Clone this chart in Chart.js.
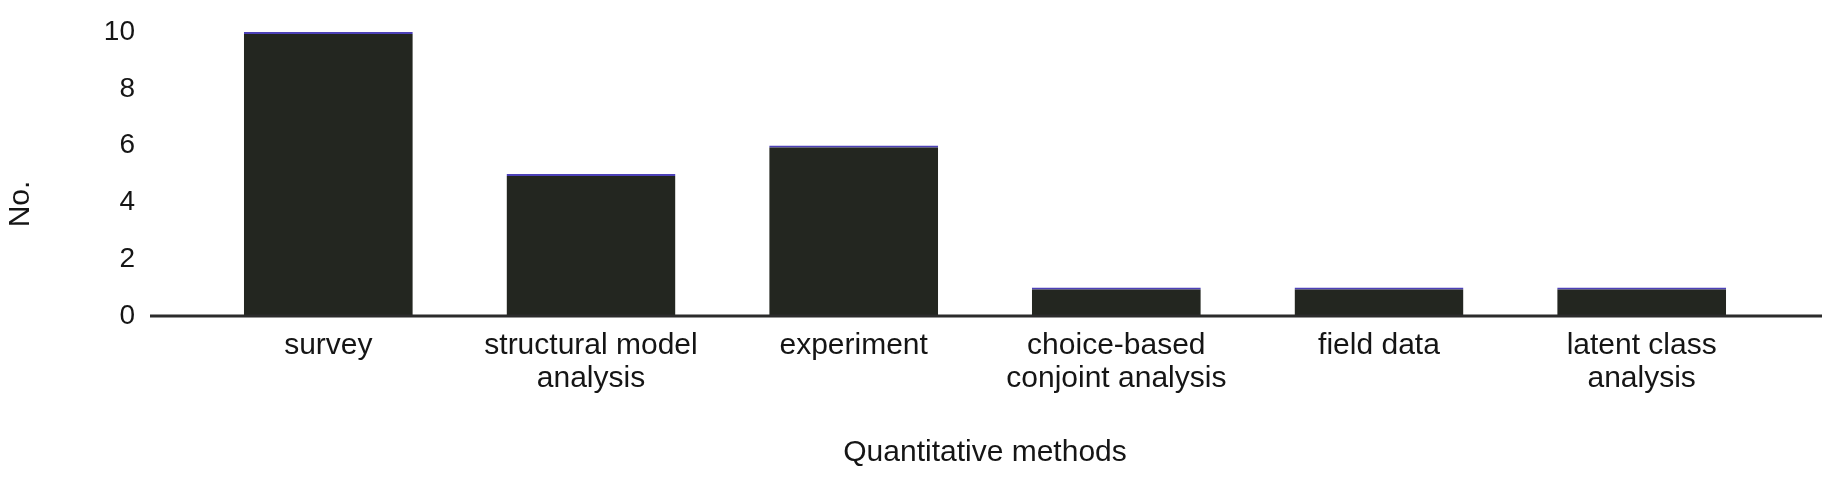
<!DOCTYPE html>
<html>
<head>
<meta charset="utf-8">
<script src="https://cdn.jsdelivr.net/npm/chart.js@4/dist/chart.umd.min.js"></script>
<style>
    html, body { margin: 0; padding: 0; background: #fff; }
    #wrap { width: 1839px; height: 492px; position: relative; }
</style>
</head>
<body>
<div id="wrap"><canvas id="methodsChart"></canvas></div>
<script>
// Chart data
const methodLabels = [
    'survey',
    ['structural model', 'analysis'],
    'experiment',
    ['choice-based', 'conjoint analysis'],
    'field data',
    ['latent class', 'analysis']
];
const methodCounts = [10, 5, 6, 1, 1, 1];
const yTickValues = [0, 2, 4, 6, 8, 10];
const yTitle = 'No.';
const xTitle = 'Quantitative methods';

const textColor = '#151515';
const fontFamily = '"Liberation Sans", Arial, sans-serif';

// Baseline that runs a bit past the bars on both sides
const baselinePlugin = {
    id: 'baseline',
    afterDatasetsDraw(chart) {
        const ctx = chart.ctx;
        const y = chart.scales.y.getPixelForValue(0);
        ctx.save();
        ctx.strokeStyle = '#2b2b2b';
        ctx.lineWidth = 3;
        ctx.beginPath();
        ctx.moveTo(150, y);
        ctx.lineTo(1822, y);
        ctx.stroke();
        ctx.restore();
    }
};

// Y title sits a little below the middle of the plot in the original
const yTitlePlugin = {
    id: 'yTitle',
    afterDraw(chart) {
        const ctx = chart.ctx;
        ctx.save();
        ctx.translate(21, 204);
        ctx.rotate(-Math.PI / 2);
        ctx.fillStyle = textColor;
        ctx.font = '30px ' + fontFamily;
        ctx.textAlign = 'center';
        ctx.textBaseline = 'middle';
        ctx.fillText(yTitle, 0, 0);
        ctx.restore();
    }
};

const ctx = document.getElementById('methodsChart').getContext('2d');
new Chart(ctx, {
    type: 'bar',
    data: {
        labels: methodLabels,
        datasets: [{
            label: yTitle,
            data: methodCounts,
            backgroundColor: '#232620',
            borderColor: '#4d41b8',
            borderWidth: { top: 2, left: 0, right: 0, bottom: 0 },
            borderSkipped: 'bottom',
            barPercentage: 0.643,
            categoryPercentage: 1.0
        }]
    },
    options: {
        responsive: true,
        maintainAspectRatio: false,
        animation: false,
        layout: { padding: { top: 32, right: 66, bottom: 0, left: 0 } },
        plugins: {
            legend: { display: false },
            tooltip: { enabled: false }
        },
        scales: {
            x: {
                grid: { display: false, drawTicks: false },
                border: { display: false },
                ticks: {
                    color: textColor,
                    padding: 13,
                    maxRotation: 0,
                    autoSkip: false,
                    font: { family: fontFamily, size: 30, lineHeight: 1.1 }
                },
                title: {
                    display: true,
                    text: xTitle,
                    color: textColor,
                    padding: { top: 0, bottom: 21 },
                    font: { family: fontFamily, size: 30, lineHeight: 1.2 }
                },
                afterFit(scale) {
                    scale.height = 176;
                    scale.paddingLeft = 0;
                    scale.paddingRight = 0;
                }
            },
            y: {
                min: 0,
                max: 10,
                grid: { display: false, drawTicks: false },
                border: { display: false },
                afterBuildTicks(scale) {
                    scale.ticks = yTickValues.map(v => ({ value: v }));
                },
                ticks: {
                    color: textColor,
                    padding: 62,
                    font: { family: fontFamily, size: 28 }
                },
                afterFit(scale) {
                    scale.width = 197;
                    scale.paddingTop = 0;
                    scale.paddingBottom = 0;
                }
            }
        }
    },
    plugins: [baselinePlugin, yTitlePlugin]
});
</script>
</body>
</html>
